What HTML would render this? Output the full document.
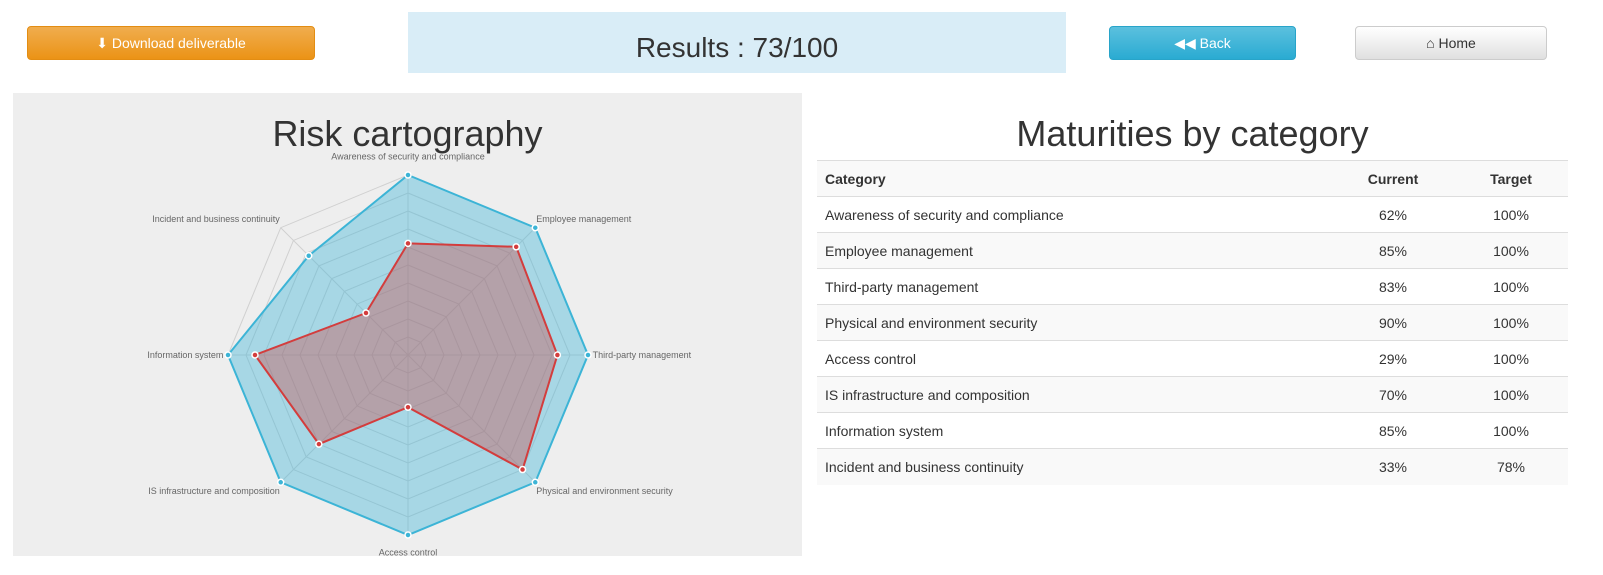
<!DOCTYPE html>
<html><head><meta charset="utf-8">
<style>
html,body{margin:0;padding:0;width:1603px;height:575px;overflow:hidden;background:#fff}
#wrap{position:relative;width:1603px;height:575px;overflow:hidden;font-family:"Liberation Sans",sans-serif;color:#333}
.btn{position:absolute;top:26px;height:34px;border-radius:4px;font-size:14px;display:flex;align-items:center;justify-content:center;box-sizing:border-box}
#dl{left:27px;width:288px;background:linear-gradient(#f0ad4e,#eb9316);border:1px solid #e38d13;color:#fff}
#back{left:1109px;width:187px;background:linear-gradient(#5bc0de,#2aabd2);border:1px solid #28a4c9;color:#fff}
#home{left:1355px;width:192px;background:linear-gradient(#fff,#e0e0e0);border:1px solid #ccc;color:#333}
#res{position:absolute;left:408px;top:12px;width:658px;height:61px;background:#d9edf7;font-size:28px;display:flex;align-items:center;justify-content:center;padding-top:10px;box-sizing:border-box}
#panel{position:absolute;left:13px;top:93px;width:789px;height:463px;background:#eeeeee;overflow:hidden}
h2{position:absolute;margin:0;font-weight:normal;font-size:36px;text-align:center}
table{position:absolute;left:817px;top:160px;width:751px;border-collapse:collapse;font-size:14px;table-layout:fixed}
td,th{height:36px;padding:0 8px;border-top:1px solid #ddd;box-sizing:border-box}
th{text-align:left;background:#f9f9f9;border-bottom:1px solid #ddd}
tr:nth-child(even) td{background:#f9f9f9}
.c{text-align:center}
</style></head><body>
<div id="wrap">
<div id="dl" class="btn">⬇&nbsp;Download deliverable</div>
<div id="res">Results : 73/100</div>
<div id="back" class="btn">◀◀ Back</div>
<div id="home" class="btn">⌂ Home</div>
<div id="panel">
<h2 style="left:0;width:789px;top:20px">Risk cartography</h2>
<svg id="radar" width="789" height="463" style="position:absolute;left:0;top:0"></svg>
</div>
<h2 style="left:817px;width:751px;top:113px">Maturities by category</h2>
<table>
<colgroup><col style="width:515px"><col style="width:122px"><col style="width:114px"></colgroup>
<thead><tr><th>Category</th><th class="c">Current</th><th class="c">Target</th></tr></thead>
<tbody id="tb"></tbody></table>
</div>
<script>
const categories=["Awareness of security and compliance","Employee management","Third-party management","Physical and environment security","Access control","IS infrastructure and composition","Information system","Incident and business continuity"];
const currentVals=[62,85,83,90,29,70,85,33];
const targetVals=[100,100,100,100,100,100,100,78];
const tb=document.getElementById('tb');
categories.forEach((c,i)=>{const tr=document.createElement('tr');


tr.innerHTML='<td>'+c+'</td><td class="c">'+currentVals[i]+'%</td><td class="c">'+targetVals[i]+'%</td>';tb.appendChild(tr);});
const svg=document.getElementById('radar');const NS='http://www.w3.org/2000/svg';
const cx=395,cy=262,R=180,n=categories.length;
function pt(i,v){const a=-Math.PI/2+i*2*Math.PI/n;return [cx+R*v/100*Math.cos(a),cy+R*v/100*Math.sin(a)];}
function mk(t,at,nm){const e=document.createElementNS(NS,t);for(const k in at)e.setAttribute(k,at[k]);svg.appendChild(e);return e;}
for(let r=1;r<=10;r++){mk('polygon',{points:categories.map((c,i)=>pt(i,r*10).join(',')).join(' '),fill:'none',stroke:'#d0d0d0','stroke-width':1},'grid-ring');}
categories.forEach((c,i)=>{const p=pt(i,100);mk('line',{x1:cx,y1:cy,x2:p[0],y2:p[1],stroke:'#d0d0d0'},'grid-spoke');
const q=pt(i,107);const a=i*2*Math.PI/n;const s=Math.sin(a);
const t=mk('text',{x:q[0],y:q[1]+(Math.abs(s)<0.01?(Math.cos(a)>0?-3:8):3),'font-size':9,fill:'#666','text-anchor':Math.abs(s)<0.01?'middle':(s>0?'start':'end'),'font-family':'Liberation Sans'},'axis-label');
if(Math.abs(s)>0.01){t.setAttribute('x',q[0]+(s>0?-8:8));}
t.textContent=c;});
function series(vals,fill,stroke,nm){mk('polygon',{points:vals.map((v,i)=>pt(i,v).join(',')).join(' '),fill:fill,stroke:stroke,'stroke-width':2},nm+'-area');
vals.forEach((v,i)=>{const p=pt(i,v);mk('circle',{cx:p[0],cy:p[1],r:3,fill:stroke,stroke:'#fff','stroke-width':1.5},nm+'-point');});}
series(targetVals,'rgba(60,180,215,0.4)','#3cb4d6','target');
series(currentVals,'rgba(200,80,80,0.4)','#d33d3d','current');
</script>
</body></html>
